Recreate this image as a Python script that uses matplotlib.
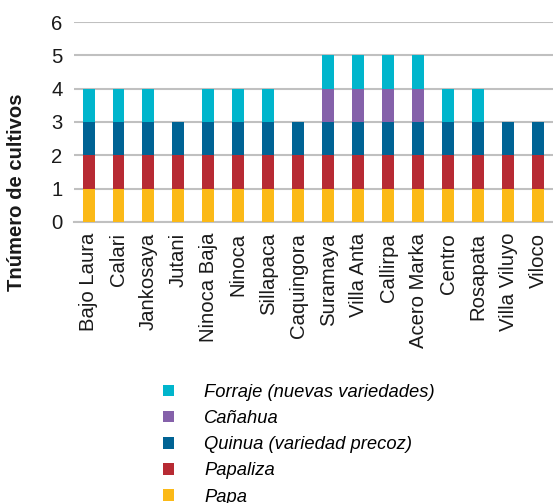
import matplotlib.pyplot as plt
import numpy as np
from matplotlib.patches import Patch

plt.rcParams['font.family'] = ['Liberation Sans', 'DejaVu Sans']

comunidades = ["Bajo Laura", "Calari", "Jankosaya", "Jutani", "Ninoca Baja", "Ninoca",
               "Sillapaca", "Caquingora", "Suramaya", "Villa Anta", "Callirpa",
               "Acero Marka", "Centro", "Rosapata", "Villa Viluyo", "Viloco"]

papa = [1, 1, 1, 1, 1, 1, 1, 1, 1, 1, 1, 1, 1, 1, 1, 1]
papaliza = [1, 1, 1, 1, 1, 1, 1, 1, 1, 1, 1, 1, 1, 1, 1, 1]
quinua = [1, 1, 1, 1, 1, 1, 1, 1, 1, 1, 1, 1, 1, 1, 1, 1]
canahua = [0, 0, 0, 0, 0, 0, 0, 0, 1, 1, 1, 1, 0, 0, 0, 0]
forraje = [1, 1, 1, 0, 1, 1, 1, 0, 1, 1, 1, 1, 1, 1, 0, 0]

series = [
    ("Papa", papa, "#fbb917"),
    ("Papaliza", papaliza, "#b72a33"),
    ("Quinua (variedad precoz)", quinua, "#006394"),
    ("Cañahua", canahua, "#8561aa"),
    ("Forraje (nuevas variedades)", forraje, "#00b5cc"),
]

fig = plt.figure(figsize=(5.53, 5.03), dpi=100)
ax = fig.add_axes([0.133, 0.559, 0.867, 0.397])

x = np.arange(len(comunidades))
bottom = np.zeros(len(comunidades))
handles = []
for nombre, vals, color in series:
    vals = np.array(vals, dtype=float)
    ax.bar(x, vals, bottom=bottom, width=0.4, color=color, zorder=3)
    bottom += vals
    handles.append(Patch(facecolor=color, label=nombre))

ax.set_xlim(-0.5, len(comunidades) - 0.5)
ax.set_ylim(0, 6)
ax.set_yticks(range(7))
ax.yaxis.grid(True, color="#c0c0c0", linewidth=1.5, zorder=0)
ax.set_axisbelow(True)
for s in ["top", "right", "left"]:
    ax.spines[s].set_visible(False)
ax.spines["bottom"].set_color("#c0c0c0")
ax.spines["bottom"].set_linewidth(1.5)
ax.tick_params(length=0, labelsize=14.6, colors="#1a1a1a")
ax.tick_params(axis="y", pad=8)
ax.tick_params(axis="x", pad=8)
ax.set_xticks(x)
ax.set_xticklabels(comunidades, rotation=90)

# título del eje y, centrado más abajo que el área de barras
fig.text(17 / 553, 1 - 192 / 503, "Tnúmero de cultivos", rotation=90,
         fontsize=14.6, fontweight="bold", color="#1a1a1a", ha="center", va="center")

leg = fig.legend(handles=handles[::-1], loc="upper left", bbox_to_anchor=(0.278, 0.255),
                 frameon=False, prop={"style": "italic", "size": 13.2},
                 handlelength=0.6, handleheight=0.6, handletextpad=1.65,
                 labelspacing=0.5, borderpad=0)

fig.savefig("out.png", dpi=100)
